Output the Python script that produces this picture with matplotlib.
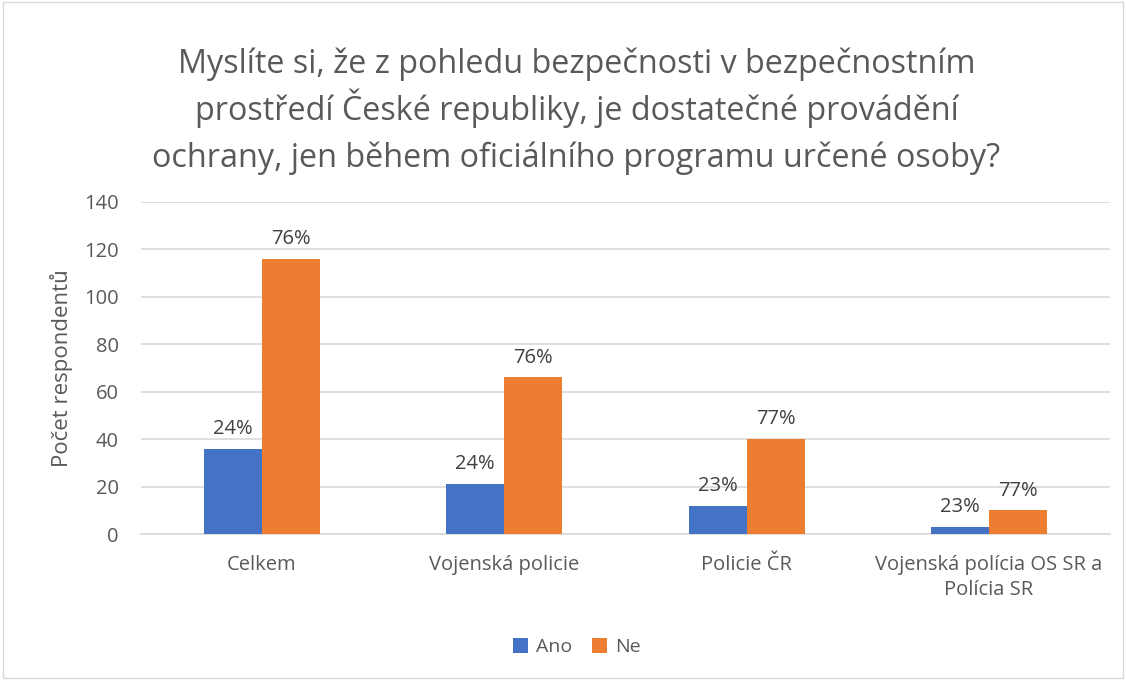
import matplotlib.pyplot as plt
import numpy as np

plt.rcParams["font.family"] = ["Open Sans", "DejaVu Sans"]

categories = ["Celkem", "Vojenská policie", "Policie ČR", "Vojenská polícia OS SR a\nPolícia SR"]
ano = [36, 21, 12, 3]
ne = [116, 66, 40, 10]
title_lines = ["Myslíte si, že z pohledu bezpečnosti v bezpečnostním",
               "prostředí České republiky, je dostatečné provádění",
               "ochrany, jen během oficiálního programu určené osoby?"]

text_color = "#595959"
blue = "#4472C4"
orange = "#ED7D31"

fig = plt.figure(figsize=(11.26, 6.8), dpi=100)
ax = fig.add_axes([0.125, 0.2147, 0.861, 0.4883])

x = np.arange(len(categories))
w = 0.24
b1 = ax.bar(x - w / 2, ano, w, color=blue, label="Ano", zorder=3)
b2 = ax.bar(x + w / 2, ne, w, color=orange, label="Ne", zorder=3)

for i in range(len(categories)):
    tot = ano[i] + ne[i]
    ax.annotate(f"{round(100 * ano[i] / tot)}%", (x[i] - w / 2, ano[i]),
                xytext=(0, 7), textcoords="offset points", ha="center", va="bottom",
                fontsize=14.5, color="#404040")
    ax.annotate(f"{round(100 * ne[i] / tot)}%", (x[i] + w / 2, ne[i]),
                xytext=(0, 7), textcoords="offset points", ha="center", va="bottom",
                fontsize=14.5, color="#404040")

ax.set_xlim(-0.5, len(categories) - 0.5)
ax.set_ylim(0, 140)
ax.set_yticks(range(0, 141, 20))
ax.yaxis.grid(True, color="#D9D9D9", linewidth=1.2, zorder=0)
ax.set_axisbelow(True)
for s in ["top", "right", "left"]:
    ax.spines[s].set_visible(False)
ax.spines["bottom"].set_color("#D9D9D9")
ax.spines["bottom"].set_linewidth(1.2)
ax.tick_params(axis="both", length=0, labelsize=14.5, colors=text_color)
ax.tick_params(axis="y", pad=16)
ax.set_xticks(x)
ax.set_xticklabels(categories, linespacing=1.35)
ax.tick_params(axis="x", pad=15)
ax.set_ylabel("Počet respondentů", fontsize=16, color=text_color, labelpad=8)

# title lines placed one by one so diacritics don't skew the spacing
for k, line in enumerate(title_lines):
    fig.text(0.512, 0.8926 - k * 0.0691, line, ha="center", va="baseline",
             fontsize=23.3, color=text_color)

fig.legend(handles=[b1, b2], labels=["Ano", "Ne"], loc="center",
           bbox_to_anchor=(0.512, 0.048), ncol=2, frameon=False,
           fontsize=14, labelcolor=text_color, handlelength=0.8,
           handleheight=0.8, columnspacing=1.0, handletextpad=0.4)

border = plt.Rectangle((0.003, 0.003), 0.994, 0.994, transform=fig.transFigure,
                       fill=False, edgecolor="#D9D9D9", linewidth=1)
fig.patches.append(border)

fig.savefig("out.png", dpi=100)
